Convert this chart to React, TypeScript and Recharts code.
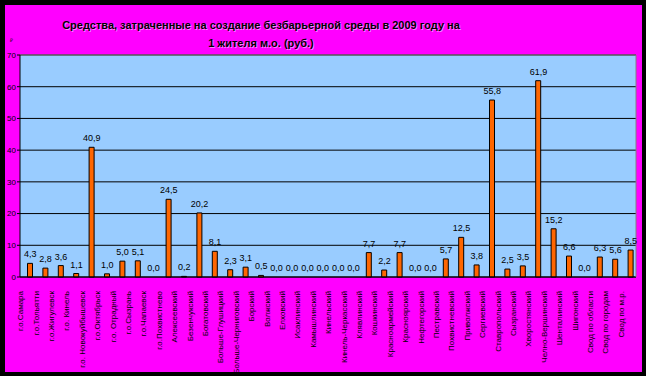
import React from 'react'
import {
  ComposedChart, Bar, Line, XAxis, YAxis, CartesianGrid, LabelList, ReferenceLine, Rectangle,
} from 'recharts'

document.body.style.margin = '0'

const categories = [
  'г.о.Самара', 'г.о.Тольятти', 'г.о.Жигулевск', 'г.о. Кинель', 'г.о. Новокуйбышевск',
  'г.о.Октябрьск', 'г.о. Отрадный', 'г.о.Сызрань', 'г.о.Чапаевск', 'г.о.Похвистнево',
  'Алексеевский', 'Безенчукский', 'Богатовский', 'Больше-Глушицкий', 'Больше-Черниговский',
  'Борский', 'Волжский', 'Елховский', 'Исаклинский', 'Камышлинский',
  'Кинельский', 'Кинель-Черкасский', 'Клявлинский', 'Кошкинский', 'Красноармейский',
  'Красноярский', 'Нефтегорский', 'Пестравский', 'Похвистневский', 'Приволжский',
  'Сергиевский', 'Ставропольский', 'Сызранский', 'Хворостянский', 'Челно-Вершинский',
  'Шенталинский', 'Шигонский', 'Свод по области', 'Свод по городам', 'Свод по м.р.',
]

const values = [
  4.3, 2.8, 3.6, 1.1, 40.9, 1.0, 5.0, 5.1, 0.0, 24.5,
  0.2, 20.2, 8.1, 2.3, 3.1, 0.5, 0.0, 0.0, 0.0, 0.0,
  0.0, 0.0, 7.7, 2.2, 7.7, 0.0, 0.0, 5.7, 12.5, 3.8,
  55.8, 2.5, 3.5, 61.9, 15.2, 6.6, 0.0, 6.3, 5.6, 8.5,
]

const yTicks = [0, 10, 20, 30, 40, 50, 60, 70]

const titleLines = [
  'Средства, затраченные на создание безбарьерной среды в 2009 году на',
  '1 жителя м.о. (руб.)',
]

const data = categories.map((name, i) => ({ name, idx: i + 0.5, value: values[i] }))
const edgeTicks = [...categories.map((_, i) => i), categories.length]

const font = '"Liberation Sans", Arial, sans-serif'
// excel draws the columns a bit right of the band centre
const barShift = 2.5

function CategoryTick({ x, y, payload }: any) {
  return (
    <text
      transform={`translate(${x - 7},${y + 14}) rotate(-90)`}
      textAnchor="end"
      dominantBaseline="central"
      fontSize={8}
      fontFamily={font}
      fill="#000"
    >
      {payload.value}
    </text>
  )
}

function ValueLabel({ x, y, value }: any) {
  return (
    <text x={x + barShift} y={y - 6} textAnchor="middle" fontSize={9} fontFamily={font} fill="#000">
      {Number(value).toFixed(1).replace('.', ',')}
    </text>
  )
}

export default function App() {
  return (
    <div style={{ position: 'relative', width: 646, height: 376, background: '#000', overflow: 'hidden' }}>
      <div style={{ position: 'absolute', left: 5, top: 5, width: 637, height: 367, background: '#FF00FF' }} />
      <div style={{ position: 'absolute', left: 0, top: 0 }}>
        <ComposedChart
          width={646}
          height={376}
          data={data}
          margin={{ top: 55, right: 9, bottom: 97, left: 0 }}
          barCategoryGap={0}
        >
          <CartesianGrid vertical={false} stroke="#000" fill="#99CCFF" fillOpacity={1} />
          <XAxis
            dataKey="name"
            interval={0}
            height={1}
            tickSize={0}
            tickMargin={0}
            tickLine={false}
            axisLine={{ stroke: '#000' }}
            tick={<CategoryTick />}
          />
          <XAxis
            xAxisId="edges"
            type="number"
            dataKey="idx"
            domain={[0, categories.length]}
            ticks={edgeTicks}
            interval={0}
            height={1}
            tickSize={3}
            tick={false}
            tickLine={{ stroke: '#000' }}
            axisLine={false}
          />
          <YAxis
            width={20}
            domain={[0, 70]}
            ticks={yTicks}
            interval={0}
            tickSize={3}
            tickMargin={1}
            axisLine={{ stroke: '#000' }}
            tickLine={{ stroke: '#000' }}
            tick={{ fontSize: 8, fill: '#000', fontFamily: font }}
          />
          <YAxis
            yAxisId="r"
            orientation="right"
            width={1}
            domain={[0, 70]}
            tick={false}
            tickLine={false}
            axisLine={{ stroke: '#808080' }}
          />
          <ReferenceLine y={70} stroke="#808080" />
          <Bar
            dataKey="value"
            fill="#FF6600"
            stroke="#000"
            strokeWidth={1}
            barSize={5}
            isAnimationActive={false}
            shape={(p: any) => <Rectangle {...p} x={p.x + barShift} />}
          />
          <Line dataKey="value" stroke="none" dot={false} activeDot={false} isAnimationActive={false}>
            <LabelList dataKey="value" content={<ValueLabel />} />
          </Line>
        </ComposedChart>
      </div>
      <svg width={646} height={60} style={{ position: 'absolute', left: 0, top: 0, pointerEvents: 'none' }}>
        {titleLines.map((t, i) => (
          <g key={i} fontFamily={font} fontWeight="bold" fontSize={11} textAnchor="middle">
            <text x={262} y={30 + i * 18} fill="#ffffff" fillOpacity={0.5}>{t}</text>
            <text x={261} y={29 + i * 18} fill="#000">{t}</text>
          </g>
        ))}
        <text x={10} y={42} fontSize={5} fontFamily={font} fill="#000">₽</text>
      </svg>
    </div>
  )
}
